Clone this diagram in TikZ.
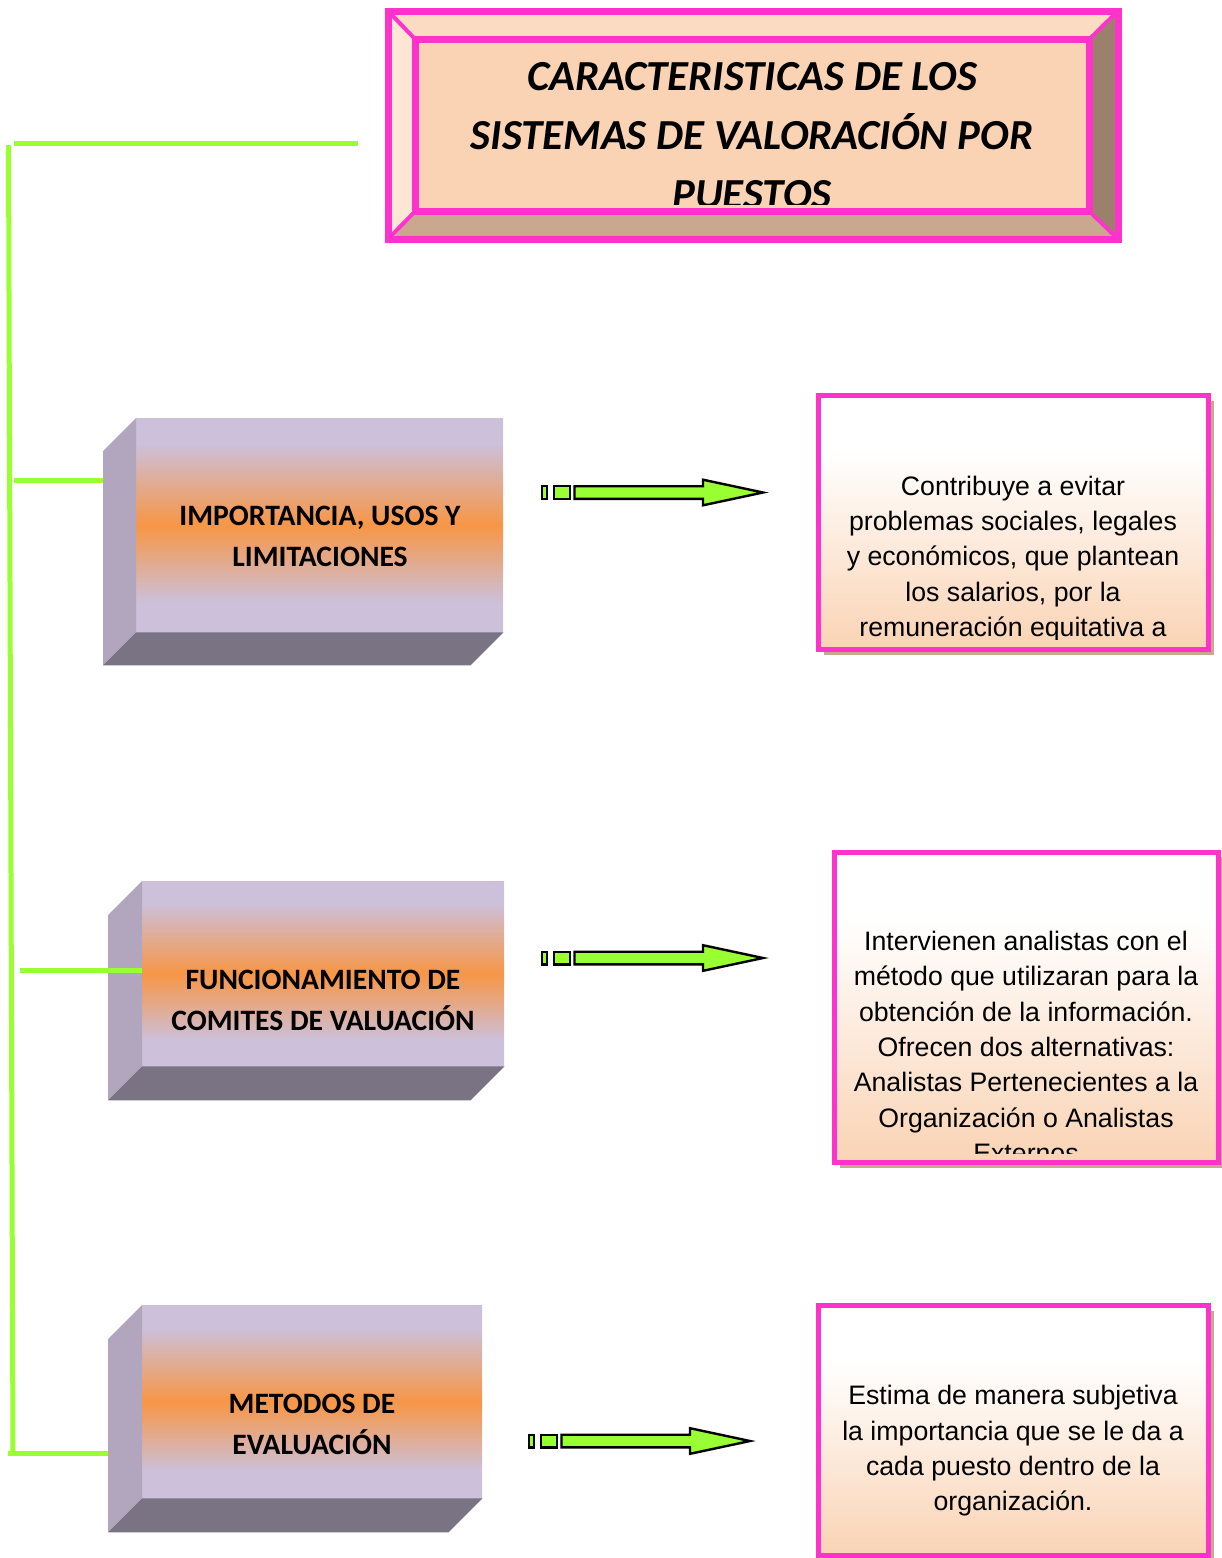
\documentclass[tikz,border=0pt]{standalone}
\usepackage{fontspec}
\setmainfont{Liberation Sans}
\newfontfamily\calib{Carlito}
\usetikzlibrary{calc,shadows}

\definecolor{rosa}{HTML}{FF33CC}
\definecolor{verde}{HTML}{99FF33}
\definecolor{lila}{HTML}{CCC0DA}
\definecolor{naranja}{HTML}{F79646}
\definecolor{ladolila}{HTML}{B2A6BF}
\definecolor{fondolila}{HTML}{7A7384}
\definecolor{durazno}{HTML}{FAD3B4}
\definecolor{sombra}{HTML}{C8A88E}
\definecolor{biselsup}{HTML}{FBDCC2}
\definecolor{biselizq}{HTML}{FDE6D4}
\definecolor{biselder}{HTML}{9B806B}
\definecolor{biselinf}{HTML}{C9A88F}

% lilac - orange - lilac band for the cube fronts
\pgfdeclareverticalshading{cubo}{100bp}{color(0bp)=(lila); color(32bp)=(lila); color(50bp)=(naranja); color(69bp)=(lila); color(100bp)=(lila)}
% white top fading into peach for the note boxes
\pgfdeclareverticalshading{notafade}{100bp}{color(0bp)=(durazno); color(25bp)=(durazno); color(64bp)=(white); color(100bp)=(white)}

\begin{document}
\begin{tikzpicture}[x=1pt,y=-1pt,
  conector/.style={draw=verde, line width=5pt},
  rosabisel/.style={draw=rosa, line width=7pt, line join=miter},
  rosadiag/.style={draw=rosa, line width=4pt},
  frente/.style={rectangle, shading=cubo, inner sep=0pt, anchor=north west},
  ladocubo/.style={fill=ladolila},
  fondocubo/.style={fill=fondolila},
  textocubo/.style={font=\calib\bfseries\fontsize{29.6}{41}\selectfont, align=center, inner sep=0pt},
  nota/.style={rectangle, draw=rosa, line width=5pt, shading=notafade, inner sep=0pt,
    general shadow={fill=sombra, shadow xshift=5pt, shadow yshift=-5pt}},
  textonota/.style={font=\fontsize{26.7}{35.3}\selectfont, align=center, inner sep=0pt},
  flechabloque/.style={draw=black, line width=2.4pt, fill=verde, line join=miter},
  flecha/.pic={
    \path[flechabloque] (1.2,-6.3) rectangle (6.2,6.3);
    \path[flechabloque] (13.2,-6.3) rectangle (28.8,6.3);
    \path[flechabloque] (33.5,-6.3) -- (162,-6.3) -- (162,-12.8) -- (222,0)
      -- (162,12.8) -- (162,6.3) -- (33.5,6.3) -- cycle;
  },
]
\useasboundingbox (0,0) rectangle (1221,1558);

% ---------- title: bevelled frame ----------
\coordinate (oNW) at (388,11);   \coordinate (oNE) at (1118,11);
\coordinate (oSW) at (388,239);  \coordinate (oSE) at (1118,239);
\coordinate (iNW) at (415,39);   \coordinate (iNE) at (1089.5,39);
\coordinate (iSW) at (415,211.5);\coordinate (iSE) at (1089.5,211.5);
\fill[biselsup] (oNW) -- (oNE) -- (iNE) -- (iNW) -- cycle;
\fill[biselizq] (oNW) -- (iNW) -- (iSW) -- (oSW) -- cycle;
\fill[biselder] (oNE) -- (oSE) -- (iSE) -- (iNE) -- cycle;
\fill[biselinf] (oSW) -- (oSE) -- (iSE) -- (iSW) -- cycle;
\fill[durazno] (iNW) rectangle (iSE);
\begin{scope}
  \clip (419,43) rectangle (1086,204);
  \node[font=\calib\bfseries\itshape\fontsize{42.8}{59}\selectfont, align=center, inner sep=0pt]
    (titulo) at (752,136) {CARACTERISTICAS DE LOS\\SISTEMAS DE VALORACIÓN POR\\PUESTOS};
\end{scope}
\draw[rosadiag] (oNW) -- (iNW) (oNE) -- (iNE) (oSW) -- (iSW) (oSE) -- (iSE);
\draw[rosabisel] (iNW) rectangle (iSE);
\draw[rosabisel] (oNW) rectangle (oSE);

% ---------- green connectors ----------
\coordinate (espTop) at (8.5,145);
\coordinate (espBot) at (13,1455);
\coordinate (ramaTit) at (358,143.5);
\draw[conector] (espTop) -- (espBot);
\draw[conector] (14,143.5) -- (ramaTit);

% ---------- cubes ----------
\node[frente, minimum width=367pt, minimum height=214pt] (c1) at (136,418) {};
\fill[ladocubo] (c1.north west) -- ++(-33,33) -- ($(c1.south west)+(-33,33)$) -- (c1.south west) -- cycle;
\fill[fondocubo] (c1.south west) -- (c1.south east) -- ++(-33,33) -- ($(c1.south west)+(-33,33)$) -- cycle;
\node[textocubo] (t1) at (320,536) {IMPORTANCIA, USOS Y\\LIMITACIONES};

\node[frente, minimum width=362pt, minimum height=185pt] (c2) at (142,881) {};
\fill[ladocubo] (c2.north west) -- ++(-34,34) -- ($(c2.south west)+(-34,34)$) -- (c2.south west) -- cycle;
\fill[fondocubo] (c2.south west) -- (c2.south east) -- ++(-34,34) -- ($(c2.south west)+(-34,34)$) -- cycle;
\node[textocubo] (t2) at (323,1000) {FUNCIONAMIENTO DE\\COMITES DE VALUACIÓN};

\node[frente, minimum width=340pt, minimum height=193pt] (c3) at (142,1305) {};
\fill[ladocubo] (c3.north west) -- ++(-34,34) -- ($(c3.south west)+(-34,34)$) -- (c3.south west) -- cycle;
\fill[fondocubo] (c3.south west) -- (c3.south east) -- ++(-34,34) -- ($(c3.south west)+(-34,34)$) -- cycle;
\node[textocubo] (t3) at (312,1424) {METODOS DE\\EVALUACIÓN};

% branches from the spine to the cubes
\draw[conector] (14,480) -- (103,480);
\draw[conector] (20,970) -- (c2.west |- 0,970);
\draw[conector] (8,1453) -- (108,1453);

% ---------- block arrows ----------
\pic at (541,492.5) {flecha};
\pic at (541,958) {flecha};
\pic at (528,1441) {flecha};

% ---------- note boxes ----------
\node[nota, minimum width=390pt, minimum height=254pt] (nA) at (1013.5,522.5) {};
\begin{scope}
  \clip (822,399) rectangle (1205,639);
  \node[textonota] (txA) at (1013,559) {Contribuye a evitar\\problemas sociales, legales\\y económicos, que plantean\\los salarios, por la\\remuneración equitativa a};
\end{scope}

\node[nota, minimum width=384pt, minimum height=310.5pt] (nB) at (1026.5,1007.25) {};
\begin{scope}
  \clip (838,856) rectangle (1215,1153);
  \node[textonota] (txB) at (1026,1047) {Intervienen analistas con el\\método que utilizaran para la\\obtención de la información.\\Ofrecen dos alternativas:\\Analistas Pertenecientes a la\\Organización o Analistas\\Externos};
\end{scope}

\node[nota, minimum width=390pt, minimum height=250pt] (nC) at (1013.5,1430.5) {};
\node[textonota] (txC) at (1013,1451) {Estima de manera subjetiva\\la importancia que se le da a\\cada puesto dentro de la\\organización.};
\end{tikzpicture}
\end{document}
